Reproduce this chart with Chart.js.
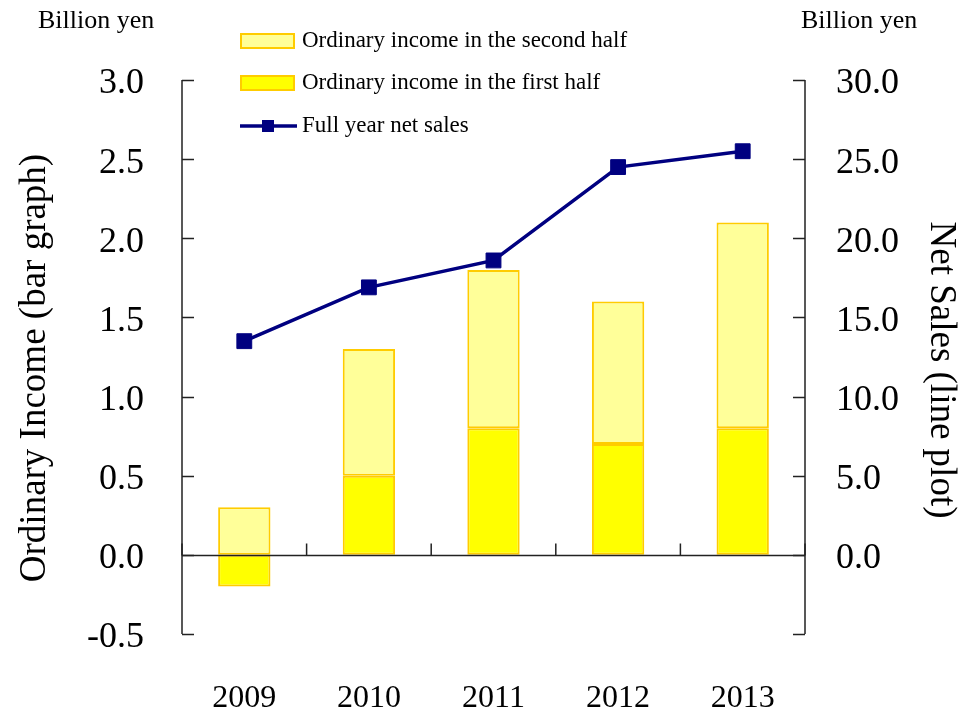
<!DOCTYPE html>
<html>
<head>
<meta charset="utf-8">
<script src="https://cdn.jsdelivr.net/npm/chart.js@4"></script>
<style>
  html, body { margin: 0; padding: 0; background: #fff; }
  #wrap { width: 968px; height: 712px; }
</style>
</head>
<body>
<div id="wrap"><canvas id="income-chart" width="968" height="712"></canvas></div>
<script>
// 年度
const years = ['2009', '2010', '2011', '2012', '2013'];
// 経常利益（上期・下期）単位：十億円
const firstHalfIncome = [-0.2, 0.5, 0.8, 0.7, 0.8];
const secondHalfIncome = [0.3, 0.8, 1.0, 0.9, 1.3];
// 通期売上高 単位：十億円
const netSales = [13.5, 16.9, 18.6, 24.5, 25.5];

const seriesNames = {
  second: 'Ordinary income in the second half',
  first: 'Ordinary income in the first half',
  sales: 'Full year net sales'
};
const axisTitles = {
  left: 'Ordinary Income (bar graph)',
  right: 'Net Sales (line plot)',
  unit: 'Billion yen'
};

const SERIF = '"Liberation Serif", "Times New Roman", serif';
const AXIS_COLOR = '#222';

// 軸線・内向き目盛り・ゼロ線・軸タイトル・単位・凡例を描く
const decorations = {
  id: 'decorations',
  afterDatasetsDraw(chart) {
    const { ctx, chartArea: area, scales } = chart;
    const yL = scales.y, yR = scales.y1, x = scales.x;
    ctx.save();
    ctx.strokeStyle = AXIS_COLOR;
    ctx.lineWidth = 1.5;

    // 左右の縦軸
    ctx.beginPath();
    ctx.moveTo(area.left, area.top);
    ctx.lineTo(area.left, area.bottom);
    ctx.moveTo(area.right, area.top);
    ctx.lineTo(area.right, area.bottom);
    ctx.stroke();

    // 内向きの目盛り
    ctx.beginPath();
    yL.ticks.forEach(t => {
      const py = Math.round(yL.getPixelForValue(t.value)) + 0.5;
      ctx.moveTo(area.left, py);
      ctx.lineTo(area.left + 12, py);
    });
    yR.ticks.forEach(t => {
      const py = Math.round(yR.getPixelForValue(t.value)) + 0.5;
      ctx.moveTo(area.right, py);
      ctx.lineTo(area.right - 12, py);
    });
    ctx.stroke();

    // ゼロ線と区切り目盛り
    const zeroY = Math.round(yL.getPixelForValue(0)) + 0.5;
    const step = x.getPixelForValue(1) - x.getPixelForValue(0);
    ctx.beginPath();
    ctx.moveTo(area.left, zeroY);
    ctx.lineTo(area.right, zeroY);
    for (let i = 0; i <= years.length; i++) {
      const px = i < years.length ? x.getPixelForValue(i) - step / 2 : area.right;
      ctx.moveTo(px, zeroY);
      ctx.lineTo(px, zeroY - 12);
    }
    ctx.stroke();

    ctx.fillStyle = '#000';
    ctx.textBaseline = 'middle';

    // 軸タイトル（縦書き）
    const midY = (area.top + area.bottom) / 2 + 11;
    ctx.font = '37px ' + SERIF;
    ctx.textAlign = 'center';
    ctx.save();
    ctx.translate(35, midY);
    ctx.rotate(-Math.PI / 2);
    ctx.fillText(axisTitles.left, 0, 0);
    ctx.restore();
    ctx.save();
    ctx.translate(941, midY + 2);
    ctx.rotate(Math.PI / 2);
    ctx.fillText(axisTitles.right, 0, 0);
    ctx.restore();

    // 単位
    ctx.font = '26px ' + SERIF;
    ctx.textAlign = 'left';
    ctx.fillText(axisTitles.unit, 38, 21);
    ctx.fillText(axisTitles.unit, 801, 21);

    // 凡例
    const ds = chart.data.datasets;
    const rows = [
      { label: ds[1].label, y: 41, type: 'bar', fill: ds[1].backgroundColor, border: ds[1].borderColor },
      { label: ds[0].label, y: 83, type: 'bar', fill: ds[0].backgroundColor, border: ds[0].borderColor },
      { label: ds[2].label, y: 126, type: 'line', color: ds[2].borderColor }
    ];
    ctx.font = '23px ' + SERIF;
    rows.forEach(r => {
      if (r.type === 'bar') {
        ctx.fillStyle = r.fill;
        ctx.strokeStyle = r.border;
        ctx.lineWidth = 2;
        ctx.fillRect(241, r.y - 7, 53, 14);
        ctx.strokeRect(241, r.y - 7, 53, 14);
      } else {
        ctx.strokeStyle = r.color;
        ctx.lineWidth = 3.5;
        ctx.beginPath();
        ctx.moveTo(240, r.y);
        ctx.lineTo(297, r.y);
        ctx.stroke();
        ctx.fillStyle = r.color;
        ctx.fillRect(262, r.y - 6, 12, 12);
      }
      ctx.fillStyle = '#000';
      ctx.fillText(r.label, 302, r.y);
    });
    ctx.restore();
  }
};

const ctx = document.getElementById('income-chart').getContext('2d');

new Chart(ctx, {
  type: 'bar',
  data: {
    labels: years,
    datasets: [
      {
        label: seriesNames.first,
        data: firstHalfIncome,
        backgroundColor: '#FFFF00',
        borderColor: '#FFCC00',
        borderWidth: 2,
        borderSkipped: false,
        yAxisID: 'y',
        stack: 'income',
        order: 1
      },
      {
        label: seriesNames.second,
        data: secondHalfIncome,
        backgroundColor: '#FFFF99',
        borderColor: '#FFCC00',
        borderWidth: 2,
        borderSkipped: false,
        yAxisID: 'y',
        stack: 'income',
        order: 1
      },
      {
        type: 'line',
        label: seriesNames.sales,
        data: netSales,
        borderColor: '#000080',
        backgroundColor: '#000080',
        borderWidth: 3.5,
        pointStyle: 'rect',
        pointRadius: 10.5,
        pointBorderWidth: 1,
        tension: 0,
        yAxisID: 'y1',
        order: 0
      }
    ]
  },
  options: {
    responsive: false,
    animation: false,
    events: [],
    layout: { padding: { top: 80, left: 0, right: 0, bottom: 0 } },
    datasets: {
      bar: { barPercentage: 0.42, categoryPercentage: 1.0 }
    },
    scales: {
      x: {
        stacked: true,
        grid: { display: false, drawTicks: false },
        border: { display: false },
        ticks: {
          color: '#000',
          font: { family: SERIF, size: 32 },
          padding: 45,
          maxRotation: 0
        },
        afterFit(scale) { scale.height = 78; }
      },
      y: {
        position: 'left',
        stacked: true,
        min: -0.5,
        max: 3.0,
        grid: { display: false, drawTicks: false },
        border: { display: false },
        ticks: {
          stepSize: 0.5,
          color: '#000',
          font: { family: SERIF, size: 36 },
          padding: 38,
          labelOffset: 4,
          callback: v => v.toFixed(1)
        },
        afterFit(scale) { scale.width = 182; }
      },
      y1: {
        position: 'right',
        min: -5,
        max: 30,
        grid: { display: false, drawTicks: false },
        border: { display: false },
        ticks: {
          stepSize: 5,
          color: '#000',
          font: { family: SERIF, size: 36 },
          padding: 31,
          labelOffset: 4,
          callback: v => (v < 0 ? '' : v.toFixed(1))
        },
        afterFit(scale) { scale.width = 163; }
      }
    },
    plugins: {
      legend: { display: false },
      tooltip: { enabled: false }
    }
  },
  plugins: [decorations]
});
</script>
</body>
</html>
